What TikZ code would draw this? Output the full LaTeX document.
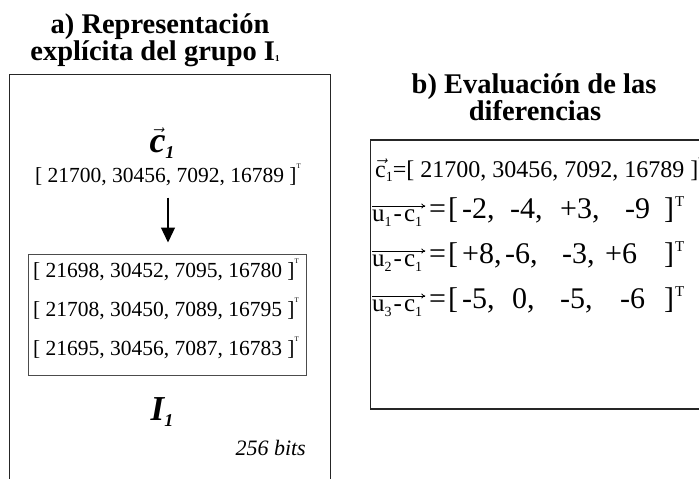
\documentclass[tikz,border=0pt]{standalone}
\usepackage{fontspec}
\usepackage{amsmath}
\setmainfont{Liberation Serif}
\usetikzlibrary{arrows.meta}
\newcommand\supT{\raisebox{0.62em}{\fontsize{7}{7}\selectfont T}}
\newcommand\bigT{\raisebox{0.4em}{\fontsize{15}{15}\selectfont T}}
\newcommand\subn[1]{\raisebox{-0.2em}{\fontsize{14}{14}\selectfont #1}}
\newcommand\cell[2]{\makebox[#1pt][l]{#2}}
\newcommand\difflab[1]{u\subn{#1}\kern2pt-\kern2pt c\subn{1}\kern3pt}
\begin{document}
\begin{tikzpicture}[x=1pt,y=-1pt,
  title/.style={font=\bfseries\fontsize{28.5}{28.5}\selectfont, anchor=base, inner sep=0pt},
  vec/.style={font=\fontsize{21.5}{21.5}\selectfont, anchor=base, inner sep=0pt},
  panel/.style={draw=black!85, line width=1.3pt},
  innerbox/.style={draw=black!70, line width=1pt, minimum width=278pt, minimum height=121pt, inner sep=0pt},
  lab/.style={font=\fontsize{25}{25}\selectfont, anchor=base west, inner sep=0pt},
  overarrow/.style={line width=0.8pt, -{To[length=4pt,width=5pt]}},
  diff/.style={font=\fontsize{30}{30}\selectfont, anchor=base west, inner sep=0pt}]
\useasboundingbox (0,0) rectangle (699,479);
\clip (0,0) rectangle (699,479);
% titles
\node[title] (ta1) at (160,33) {a) Representación};
\node[title] (ta2) at (155,60) {explícita del grupo I\raisebox{-0.05em}{\fontsize{9}{9}\selectfont 1}};
\node[title] (tb1) at (534,93) {b) Evaluación de las};
\node[title] (tb2) at (535,120) {diferencias};
% left panel
\draw[panel] (9.5,490) -- (9.5,74.5) -- (330.5,74.5) -- (330.5,490);
\node[anchor=base, inner sep=0pt, font=\bfseries\itshape\fontsize{36}{36}\selectfont] (c) at (162,152)
  {$\vec{\text{c}}$\raisebox{-0.18em}{\fontsize{18}{18}\selectfont 1}};
\node[vec] (cv) at (168,182) {[ 21700, 30456, 7092, 16789 ]\supT};
\node[innerbox] (inner) at (167,314.5) {};
\node[vec] (r1) at (166,277) {[ 21698, 30452, 7095, 16780 ]\supT};
\node[vec] (r2) at (166,316) {[ 21708, 30450, 7089, 16795 ]\supT};
\node[vec] (r3) at (166,355) {[ 21695, 30456, 7087, 16783 ]\supT};
\draw[line width=1.3pt, -{Triangle[length=15pt,width=14pt]}, shorten <=12pt, shorten >=11pt]
  (cv.south) -- (cv.south |- inner.north);
\node[anchor=base, inner sep=0pt, font=\bfseries\itshape\fontsize{35}{35}\selectfont] (I) at (162,420)
  {I\raisebox{-0.18em}{\fontsize{18}{18}\selectfont 1}};
\node[anchor=base east, inner sep=0pt, font=\itshape\fontsize{22}{22}\selectfont] (bits) at (306,455) {256 bits};
% right panel
\draw[panel] (720,140) -- (370.5,140) -- (370.5,409) -- (720,409);
\node[lab, font=\fontsize{24}{24}\selectfont] (d0) at (375,177)
  {$\vec{\text{c}}$\subn{1}=[ 21700, 30456, 7092, 16789 ]\supT};
% line 2
\node[lab] (l1) at (372,221) {\difflab{1}};
\draw[overarrow] ([yshift=15pt]l1.base west) -- ([yshift=15pt]l1.base east);
\node[diff] (d1) at (429,218)
  {\cell{19}{=}\cell{14}{[}\cell{48}{-2,}\cell{50}{-4,}\cell{65}{+3,}\cell{39}{-9}\cell{11}{]}\bigT};
% line 3
\node[lab] (l2) at (372,266) {\difflab{2}};
\draw[overarrow] ([yshift=15pt]l2.base west) -- ([yshift=15pt]l2.base east);
\node[diff] (d2) at (429,263)
  {\cell{19}{=}\cell{14}{[}\cell{43}{+8,}\cell{57}{-6,}\cell{43}{-3,}\cell{59}{+6}\cell{11}{]}\bigT};
% line 4
\node[lab] (l3) at (372,311) {\difflab{3}};
\draw[overarrow] ([yshift=15pt]l3.base west) -- ([yshift=15pt]l3.base east);
\node[diff] (d3) at (429,308)
  {\cell{19}{=}\cell{14}{[}\cell{50}{-5,}\cell{48}{0,}\cell{60}{-5,}\cell{44}{-6}\cell{11}{]}\bigT};
\end{tikzpicture}
\end{document}
